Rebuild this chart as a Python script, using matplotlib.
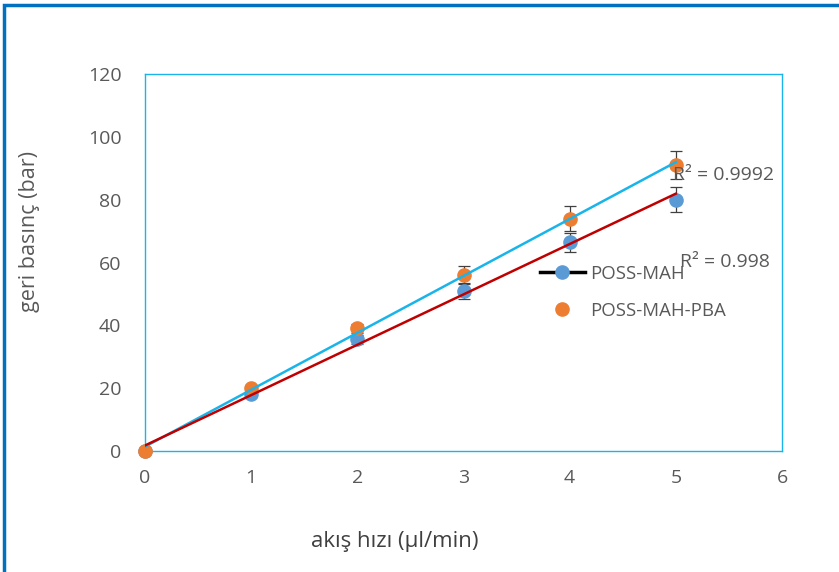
import matplotlib
matplotlib.use("Agg")
import matplotlib.pyplot as plt
from matplotlib.lines import Line2D
from matplotlib.patches import Rectangle
import numpy as np

plt.rcParams['font.family'] = ['Open Sans', 'DejaVu Sans']

flow = [0, 1, 2, 3, 4, 5]
mah = [0, 18, 35.5, 51, 66.5, 80]
mah_err = [0, 0.8, 1.5, 2.5, 3.0, 4.0]
pba = [0, 20, 39, 56, 74, 91]
pba_err = [0, 0.8, 1.5, 3.0, 4.0, 4.5]
r2_mah = "R² = 0.998"
r2_pba = "R² = 0.9992"

c_blue = '#5B9BD5'
c_orange = '#ED7D31'
c_cyan = '#18B4EA'
c_red = '#C00000'
c_text = '#595959'

W, H = 839, 572
fig = plt.figure(figsize=(W / 100, H / 100), dpi=100)
ax = fig.add_axes([145 / W, 1 - 451 / H, (782 - 145) / W, (451 - 74) / H])

# figure border
fig.patches.append(Rectangle((4 / W, -0.1), 1.2, 1 - 5 / H + 0.1, transform=fig.transFigure,
                             fill=False, edgecolor='#0070C0', linewidth=2.5, zorder=0))

ax.errorbar(flow, mah, yerr=mah_err, fmt='o', color=c_blue, ms=9.5, ecolor='#404040',
            elinewidth=0.9, capsize=4, capthick=0.9, zorder=3, clip_on=False)
ax.errorbar(flow, pba, yerr=pba_err, fmt='o', color=c_orange, ms=9.5, ecolor='#404040',
            elinewidth=0.9, capsize=4, capthick=0.9, zorder=3, clip_on=False)

xs = np.array([flow[0], flow[-1]], dtype=float)
k1, b1 = np.polyfit(flow, pba, 1)
k2, b2 = np.polyfit(flow, mah, 1)
ax.plot(xs, k1 * xs + b1, color=c_cyan, lw=1.8, zorder=4)
ax.plot(xs, k2 * xs + b2, color=c_red, lw=1.8, zorder=4)

ax.text(4.97, 88.0, r2_pba, fontsize=14, color=c_text, ha='left', va='center', zorder=5)
ax.text(5.04, 60.3, r2_mah, fontsize=14, color=c_text, ha='left', va='center', zorder=5)

ax.set_xlim(0, 6)
ax.set_ylim(0, 120)
ax.set_xticks(range(0, 7))
ax.set_yticks(range(0, 121, 20))
ax.tick_params(axis='y', length=0, labelsize=14, labelcolor=c_text, pad=17)
ax.tick_params(axis='x', length=0, labelsize=14, labelcolor=c_text, pad=13)
for s in ax.spines.values():
    s.set_color(c_cyan)
    s.set_linewidth(1.0)

fig.text(30 / W, 1 - 232 / H, 'geri basınç (bar)', rotation=90, fontsize=15.5,
         color=c_text, ha='center', va='center')
fig.text(395 / W, 1 - 541 / H, 'akış hızı (µl/min)', fontsize=16,
         color='#404040', ha='center', va='center')

handles = [Line2D([0], [0], color='black', lw=2.5, marker='o', mfc=c_blue, mec=c_blue, ms=9.5),
           Line2D([0], [0], color='none', marker='o', mfc=c_orange, mec=c_orange, ms=9.5)]
fig.legend(handles, ['POSS-MAH', 'POSS-MAH-PBA'], loc='upper left',
           bbox_to_anchor=(540 / W, 1 - 265 / H), borderpad=0, borderaxespad=0,
           frameon=False, fontsize=13.4, labelcolor=c_text, handlelength=2.4,
           handletextpad=0.3, labelspacing=1.0)

fig.savefig('out.png', dpi=100)
